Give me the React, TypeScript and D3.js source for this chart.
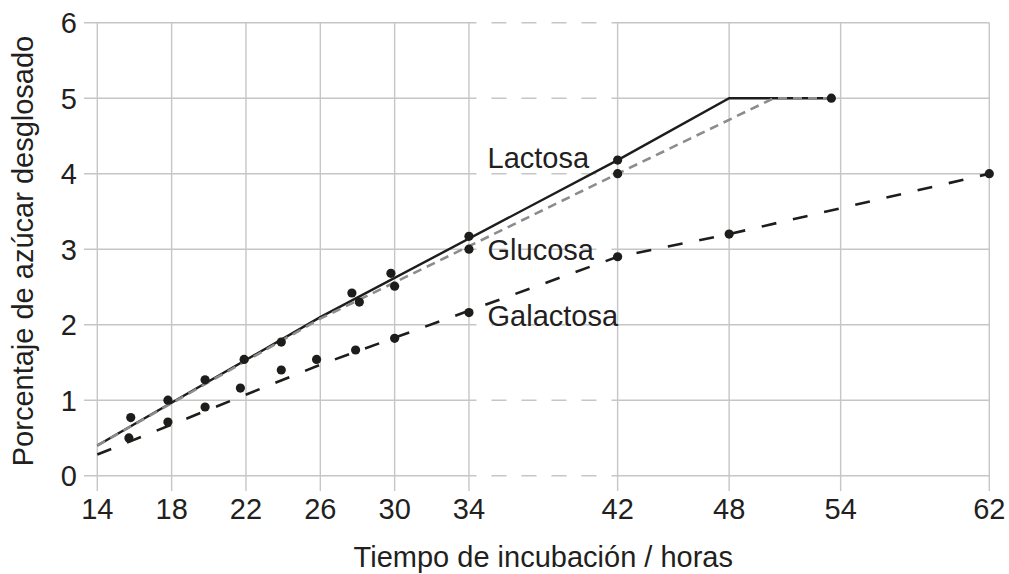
import React from "react";
import * as d3 from "d3";

// Tick values
const xTicks = [14, 18, 22, 26, 30, 34, 42, 48, 54, 62];
const yTicks = [0, 1, 2, 3, 4, 5, 6];

// Fitted lines
const lactosaLineX = [14, 26, 42, 48, 53.5];
const lactosaLineY = [0.4, 2.1, 4.18, 5.0, 5.0];
const glucosaLineX = [14, 26, 42, 50.4, 53.5];
const glucosaLineY = [0.4, 2.08, 4.0, 5.0, 5.0];
const galactosaLineX = [14, 26, 42, 48, 62];
const galactosaLineY = [0.28, 1.47, 2.9, 3.2, 4.0];

// Measured points
const lactosaPtsX = [15.8, 17.8, 19.8, 21.9, 23.9, 27.7, 29.8, 34, 42, 53.5];
const lactosaPtsY = [0.77, 1.0, 1.27, 1.54, 1.77, 2.42, 2.68, 3.17, 4.18, 5.0];
const glucosaPtsX = [28.1, 30.0, 34, 42];
const glucosaPtsY = [2.3, 2.51, 3.0, 4.0];
const galactosaPtsX = [15.7, 17.8, 19.8, 21.7, 23.9, 25.8, 27.9, 30.0, 34, 42, 48, 62];
const galactosaPtsY = [0.5, 0.71, 0.91, 1.16, 1.4, 1.54, 1.665, 1.82, 2.16, 2.9, 3.2, 4.0];

// Series labels (baseline position in data units)
const labelNames = ["Lactosa", "Glucosa", "Galactosa"];
const labelYs = [4.07, 2.86, 1.98];
const labelX = 35;

const xTitle = "Tiempo de incubación / horas";
const yTitle = "Porcentaje de azúcar desglosado";

const W = 1009;
const H = 574;
const FONT = "'Liberation Sans', Arial, Helvetica, sans-serif";
const TEXT = "#231f20";
const GRID = "#c6c6c6";

export default function App() {
  const x = d3.scaleLinear().domain([14, 62]).range([97.3, 989.3]);
  const y = d3.scaleLinear().domain([0, 6]).range([475.7, 22.7]);

  const line = d3
    .line<[number, number]>()
    .x((d) => x(d[0]))
    .y((d) => y(d[1]));

  const zip = (a: number[], b: number[]) => a.map((v, i) => [v, b[i]] as [number, number]);

  const gridLeft = x(14) - 13.3;
  const gridRight = x(62);
  const breakStart = x(34) + 7.5;
  const breakEnd = x(42) - 6;
  const tickBottom = y(0) + 15.3;

  const dots = [
    ...zip(lactosaPtsX, lactosaPtsY),
    ...zip(glucosaPtsX, glucosaPtsY),
    ...zip(galactosaPtsX, galactosaPtsY),
  ];

  return (
    <svg
      width={W}
      height={H}
      style={{ position: "absolute", left: 0, top: 0, background: "#fff" }}
      fontFamily={FONT}
    >
      <rect x={0} y={0} width={W} height={H} fill="#fff" />
      {/* horizontal grid */}
      {yTicks.map((t) => (
        <g key={"h" + t}>
          <line x1={gridLeft} x2={breakStart} y1={y(t)} y2={y(t)} stroke={GRID} strokeWidth={1.4} />
          <line
            x1={breakStart}
            x2={breakEnd}
            y1={y(t)}
            y2={y(t)}
            stroke={GRID}
            strokeWidth={1.4}
            strokeDasharray="15 15"
            strokeDashoffset={15}
          />
          <line x1={breakEnd} x2={gridRight} y1={y(t)} y2={y(t)} stroke={GRID} strokeWidth={1.4} />
        </g>
      ))}
      {/* vertical grid */}
      {xTicks.map((t) => (
        <line key={"v" + t} x1={x(t)} x2={x(t)} y1={y(6)} y2={tickBottom} stroke={GRID} strokeWidth={1.4} />
      ))}
      {/* y tick labels */}
      {yTicks.map((t) => (
        <text key={"yl" + t} x={77} y={y(t)} dy="0.36em" textAnchor="end" fontSize={29} fill={TEXT}>
          {t}
        </text>
      ))}
      {/* x tick labels */}
      {xTicks.map((t) => (
        <text key={"xl" + t} x={x(t)} y={519.3} textAnchor="middle" fontSize={29} fill={TEXT}>
          {t}
        </text>
      ))}
      {/* lines */}
      <path d={line(zip(lactosaLineX, lactosaLineY)) || ""} fill="none" stroke="#1d1d1b" strokeWidth={2.4} />
      <path
        d={line(zip(glucosaLineX, glucosaLineY)) || ""}
        fill="none"
        stroke="#8c8c8c"
        strokeWidth={2.6}
        strokeDasharray="9 6"
      />
      <path
        d={line(zip(galactosaLineX, galactosaLineY)) || ""}
        fill="none"
        stroke="#1d1d1b"
        strokeWidth={2.6}
        strokeDasharray="15 17"
      />
      {/* points */}
      {dots.map((d, i) => (
        <circle key={"c" + i} cx={x(d[0])} cy={y(d[1])} r={4.6} fill="#1d1d1b" />
      ))}
      {/* series labels */}
      {labelNames.map((n, i) => (
        <text key={n} x={x(labelX)} y={y(labelYs[i])} fontSize={29} fill={TEXT}>
          {n}
        </text>
      ))}
      {/* axis titles */}
      <text x={(x(14) + x(62)) / 2} y={567.3} textAnchor="middle" fontSize={29} fill={TEXT}>
        {xTitle}
      </text>
      <text transform="translate(32.5,251) rotate(-90)" textAnchor="middle" fontSize={29} fill={TEXT}>
        {yTitle}
      </text>
    </svg>
  );
}
